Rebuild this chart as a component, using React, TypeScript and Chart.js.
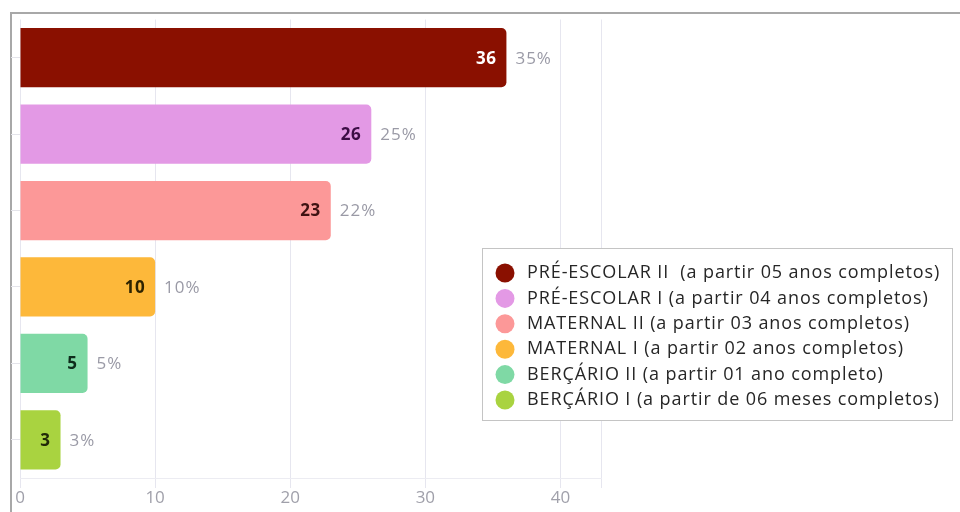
import React, { useEffect, useRef } from "react";
import { Chart, registerables } from "chart.js";

Chart.register(...registerables);

const categories = [
  "PRÉ-ESCOLAR II  (a partir 05 anos completos)",
  "PRÉ-ESCOLAR I (a partir 04 anos completos)",
  "MATERNAL II (a partir 03 anos completos)",
  "MATERNAL I (a partir 02 anos completos)",
  "BERÇÁRIO II (a partir 01 ano completo)",
  "BERÇÁRIO I (a partir de 06 meses completos)",
];
const counts = [36, 26, 23, 10, 5, 3];
const percents = [35, 25, 22, 10, 5, 3];
const xTicks = [0, 10, 20, 30, 40];
const xMax = 43;

const barColors = ["#8a1000", "#e399e5", "#fc9898", "#fdb83a", "#7fd9a5", "#a9d340"];
const valueColors = ["#ffffff", "#3c0d45", "#3f1212", "#2e2300", "#0e2c1c", "#222a08"];

const labelPlugin = {
  id: "barLabels",
  afterDatasetsDraw(chart: any) {
    const ctx = chart.ctx;
    const meta = chart.getDatasetMeta(0);
    ctx.save();
    ctx.textBaseline = "middle";
    meta.data.forEach((bar: any, i: number) => {
      ctx.letterSpacing = "0.5px";
      ctx.font = "bold 17px 'Open Sans', sans-serif";
      ctx.fillStyle = valueColors[i];
      ctx.textAlign = "right";
      ctx.fillText(String(counts[i]), bar.x - 10, bar.y + 1);
      ctx.letterSpacing = "1px";
      ctx.font = "17px 'Open Sans', sans-serif";
      ctx.fillStyle = "#9a9aa6";
      ctx.textAlign = "left";
      ctx.fillText(percents[i] + "%", bar.x + 9, bar.y + 1);
    });
    ctx.restore();
  },
};

const legendPlugin = {
  id: "boxLegend",
  afterDraw(chart: any) {
    const ctx = chart.ctx;
    const left = 482.5;
    const top = 248.5;
    const w = 470;
    const h = 172;
    ctx.save();
    ctx.fillStyle = "#ffffff";
    ctx.fillRect(left, top, w, h);
    ctx.strokeStyle = "#c4c4c4";
    ctx.lineWidth = 1;
    ctx.strokeRect(left, top, w, h);
    const labels = chart.data.labels as string[];
    labels.forEach((lab: string, i: number) => {
      const cy = 273 + i * 25.4;
      ctx.beginPath();
      ctx.arc(505, cy, 9.5, 0, Math.PI * 2);
      ctx.fillStyle = barColors[i];
      ctx.fill();
      ctx.letterSpacing = "0.9px";
      ctx.font = "18px 'Open Sans', sans-serif";
      ctx.fillStyle = "#262626";
      ctx.textAlign = "left";
      ctx.textBaseline = "middle";
      ctx.fillText(lab, 527, cy);
    });
    ctx.restore();
  },
};

export default function App() {
  const ref = useRef<HTMLCanvasElement | null>(null);
  useEffect(() => {
    if (!ref.current) return;
    const chart = new Chart(ref.current, {
      type: "bar",
      data: {
        labels: categories,
        datasets: [
          {
            data: counts,
            backgroundColor: barColors,
            borderRadius: { topLeft: 0, bottomLeft: 0, topRight: 5, bottomRight: 5 },
            borderSkipped: false,
            categoryPercentage: 1,
            barPercentage: 0.775,
          },
        ],
      },
      options: {
        indexAxis: "y",
        animation: false,
        responsive: false,
        layout: { padding: { left: 0, right: 359, top: 19.5, bottom: 0 } },
        plugins: { legend: { display: false }, tooltip: { enabled: false } },
        scales: {
          x: {
            min: 0,
            max: xMax,
            afterFit(scale: any) {
              scale.height = 34;
            },
            afterBuildTicks(scale: any) {
              scale.ticks = [...xTicks, xMax].map((v) => ({ value: v }));
            },
            ticks: {
              autoSkip: false,
              maxRotation: 0,
              color: "#a0a0aa",
              font: { family: "'Open Sans', sans-serif", size: 17 },
              padding: 0,
              callback: (v: any) => (xTicks.includes(Number(v)) ? String(v) : ""),
            },
            grid: { color: "#e6e6ef", tickLength: 10, lineWidth: 1 },
            border: { color: "#ececf2" },
          },
          y: {
            afterFit(scale: any) {
              scale.width = 20;
            },
            ticks: { display: false },
            grid: { drawOnChartArea: false, color: "#e4e4ea", tickLength: 9, offset: false },
            border: { display: false },
          },
        },
      },
      plugins: [labelPlugin, legendPlugin],
    });
    return () => chart.destroy();
  }, []);
  return (
    <div style={{ position: "fixed", left: 0, top: 0, width: 960, height: 512, background: "#fff" }}>
      <div
        style={{
          position: "absolute",
          left: 10,
          top: 12,
          right: 0,
          bottom: 0,
          borderTop: "2px solid #a8a8a8",
          borderLeft: "2px solid #a8a8a8",
        }}
      />
      <canvas ref={ref} width={960} height={512} style={{ position: "absolute", left: 0, top: 0 }} />
    </div>
  );
}
